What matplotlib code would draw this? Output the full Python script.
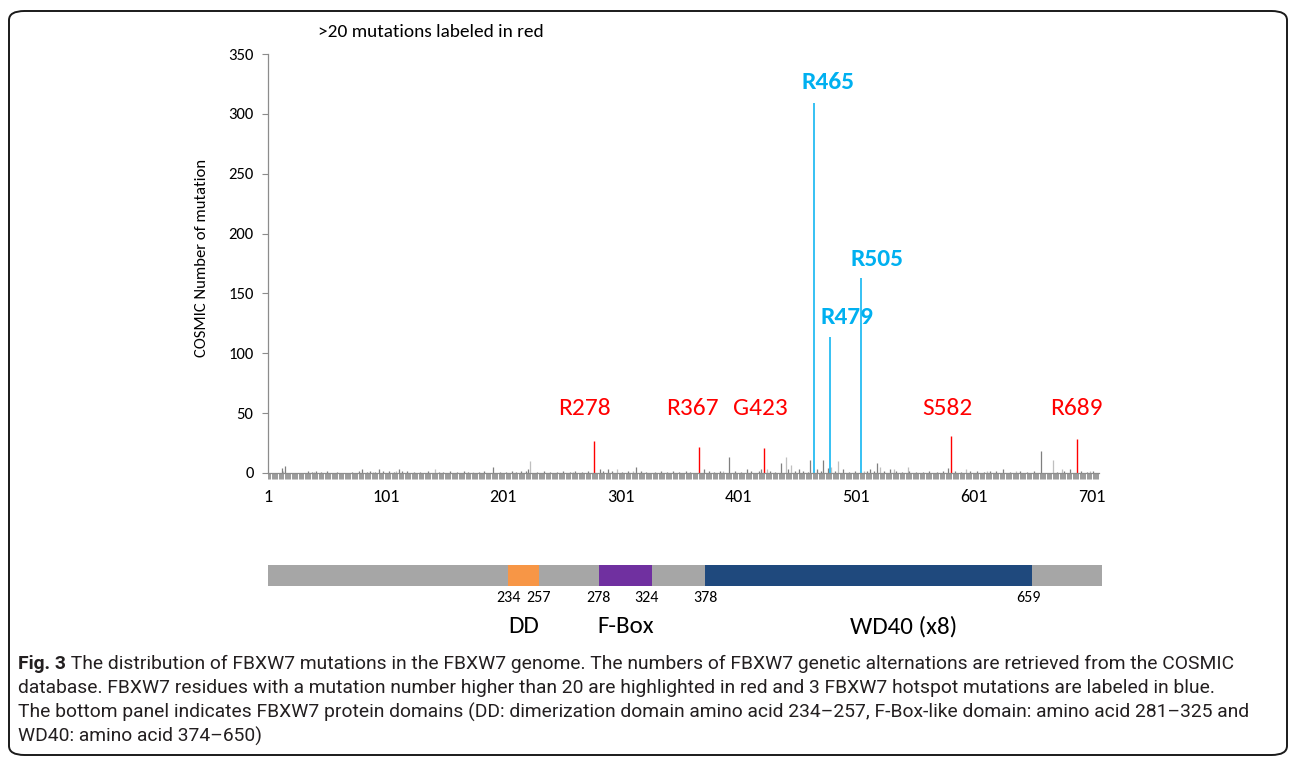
import matplotlib
matplotlib.use("Agg")
import matplotlib.pyplot as plt
from matplotlib.patches import FancyBboxPatch, Rectangle
import numpy as np

# ---------------- data ----------------
n_residues = 707
# highlighted residues (>20 mutations) in red
red_pos = [278, 367, 423, 582, 689]
red_val = [27, 22, 21, 31, 28]
red_labels = ["R278", "R367", "G423", "S582", "R689"]
# hotspots in blue
blue_pos = [465, 479, 505]
blue_val = [309, 114, 163]
blue_labels = ["R465", "R479", "R505"]
# other residues (dark grey series)
dark_pos = [13, 15, 35, 38, 42, 46, 51, 60, 72, 78, 81, 85, 88, 92, 95, 99, 104, 108,
            112, 115, 119, 125, 130, 137, 146, 150, 156, 162, 168, 171, 180, 185, 192,
            198, 203, 208, 212, 216, 220, 222, 230, 236, 241, 247, 252, 258, 262, 268,
            273, 283, 286, 290, 293, 302, 307, 314, 318, 322, 330, 335, 340, 345, 350,
            356, 360, 372, 376, 380, 385, 393, 398, 403, 408, 412, 418, 420, 428, 432,
            437, 443, 449, 452, 456, 460, 462, 468, 471, 473, 477, 483, 490, 495, 500,
            510, 513, 516, 519, 525, 530, 535, 540, 546, 552, 558, 563, 570, 575, 579,
            585, 590, 598, 604, 610, 615, 620, 626, 632, 640, 646, 652, 658, 672, 678,
            683, 692, 697, 702]
dark_val = [4, 6, 2, 1, 2, 1, 2, 1, 1, 2, 3, 1, 2, 1, 3, 2, 2, 1,
            3, 2, 2, 1, 1, 2, 1, 1, 2, 1, 2, 1, 1, 2, 5,
            1, 1, 2, 1, 2, 2, 3, 1, 2, 1, 1, 2, 1, 2, 1,
            2, 3, 2, 3, 2, 1, 2, 5, 2, 1, 1, 2, 1, 2, 1,
            2, 1, 3, 2, 1, 2, 13, 2, 1, 3, 2, 2, 3, 2, 1,
            8, 3, 2, 3, 2, 1, 11, 3, 2, 11, 4, 2, 3, 1, 2,
            2, 3, 2, 8, 2, 3, 2, 1, 2, 1, 1, 2, 1, 2, 4,
            2, 1, 2, 2, 1, 2, 2, 3, 1, 2, 1, 2, 18, 1, 2,
            3, 2, 1, 2]
# other residues (light grey series)
light_pos = [14, 40, 90, 110, 143, 175, 224, 260, 298, 311, 345, 388, 425, 441, 446,
             480, 486, 508, 521, 533, 545, 594, 612, 637, 668, 676, 700]
light_val = [2, 1, 1, 2, 3, 1, 10, 1, 3, 2, 1, 2, 3, 13, 7,
             5, 10, 2, 5, 3, 5, 3, 2, 2, 11, 3, 2]

x_ticks = [1, 101, 201, 301, 401, 501, 601, 701]
y_ticks = [0, 50, 100, 150, 200, 250, 300, 350]

# domains
dom_names = ["DD", "F-Box", "WD40 (x8)"]
dom_colors = ["#f79646", "#7030a0", "#1f497d"]
dom_draw_start = [204, 281, 371]
dom_draw_end = [230, 326, 648]
dom_num_labels = [("234", "257"), ("278", "324"), ("378", "659")]

caption_lines = [
    "The distribution of FBXW7 mutations in the FBXW7 genome. The numbers of FBXW7 genetic alternations are retrieved from the COSMIC",
    "database. FBXW7 residues with a mutation number higher than 20 are highlighted in red and 3 FBXW7 hotspot mutations are labeled in blue.",
    "The bottom panel indicates FBXW7 protein domains (DD: dimerization domain amino acid 234\u2013257, F-Box-like domain: amino acid 281\u2013325 and",
    "WD40: amino acid 374\u2013650)",
]

# ---------------- style / layout ----------------
CHART_FONT = ["Carlito", "Lato", "DejaVu Sans"]
CAP_FONT = ["Liberation Sans Narrow", "Roboto", "DejaVu Sans"]
plt.rcParams["font.family"] = CHART_FONT

dom_name_x = [217, 304, 539]
dom_end_shift = [0, -5, -3]

W, H = 1290, 762
fig = plt.figure(figsize=(W / 100, H / 100), dpi=100)


def fx(px):
    return px / W


def fy(py):
    return 1 - py / H


# outer rounded frame
frame = FancyBboxPatch((fx(9), fy(755)), fx(1287) - fx(9), fy(11) - fy(755),
                       boxstyle="round,pad=0,rounding_size=0.012",
                       transform=fig.transFigure, fill=False, ec="#1a1a1a", lw=1.4)
fig.patches.append(frame)

# main axes
ax_l, ax_r, ax_b, ax_t = 267.5, 1099, 473, 54
ax = fig.add_axes([fx(ax_l), fy(ax_b), fx(ax_r) - fx(ax_l), fy(ax_t) - fy(ax_b)])
ax.set_xlim(0.5, n_residues + 0.5)
ax.set_ylim(0, 350)

ax.vlines(light_pos, 0, light_val, colors="#bfbfbf", lw=0.9)
ax.vlines(dark_pos, 0, dark_val, colors="#7f7f7f", lw=0.9)
ax.vlines(red_pos, 0, red_val, colors="#ff0000", lw=1.0)
ax.vlines(blue_pos, 0, blue_val, colors="#00b0f0", lw=1.1)

for s in ["top", "right"]:
    ax.spines[s].set_visible(False)
for s in ["left", "bottom"]:
    ax.spines[s].set_color("#8c8c8c")
    ax.spines[s].set_linewidth(0.9)

ax.set_yticks(y_ticks)
ax.set_yticklabels([str(v) for v in y_ticks], fontsize=12)
ax.tick_params(axis="y", direction="out", length=4, width=0.8, color="#8c8c8c", pad=6)

ax.set_xticks(x_ticks)
ax.set_xticklabels([str(v) for v in x_ticks], fontsize=13)
ax.set_xticks(np.arange(1, n_residues + 1), minor=True)
ax.tick_params(axis="x", which="both", direction="out", length=4.5, width=0.7,
               color="#9a9a9a", pad=7)

# annotations
red_label_x = [270, 362, 420, 579, 688]
for lab, xx in zip(red_labels, red_label_x):
    ax.text(xx, 53.5, lab, color="#ff0000", fontsize=18.3, ha="center", va="center")
blue_label_xy = [(477.5, 326), (493, 130), (519, 178)]
for lab, (xx, yy) in zip(blue_labels, blue_label_xy):
    ax.text(xx, yy, lab, color="#00b0f0", fontsize=18.3, fontweight="bold",
            ha="center", va="center")

fig.text(fx(318), fy(32), ">20 mutations labeled in red", fontsize=13.9,
         ha="left", va="center")
fig.text(fx(202), fy(258), "COSMIC Number of mutation", fontsize=12, rotation=90,
         ha="center", va="center")

# domain bar
bx = fig.add_axes([fx(268), fy(586), fx(1102) - fx(268), fy(565) - fy(586)])
bx.set_xlim(0.5, n_residues + 0.5)
bx.set_ylim(0, 1)
bx.axis("off")
bx.add_patch(Rectangle((0.5, 0), n_residues, 1, color="#a6a6a6", lw=0))
for s, e, c in zip(dom_draw_start, dom_draw_end, dom_colors):
    bx.add_patch(Rectangle((s, 0), e - s, 1, color=c, lw=0))

trans = bx.get_xaxis_transform()
for s, e, (l1, l2), name, nx, sh in zip(dom_draw_start, dom_draw_end, dom_num_labels,
                                        dom_names, dom_name_x, dom_end_shift):
    bx.text(s, -0.55, l1, transform=trans, ha="center", va="center", fontsize=11.5,
            clip_on=False)
    bx.text(e + sh, -0.55, l2, transform=trans, ha="center", va="center", fontsize=11.5,
            clip_on=False)
    bx.text(nx, -1.95, name, transform=trans, ha="center", va="center",
            fontsize=18, clip_on=False)

# caption, fitted to width
renderer = fig.canvas.get_renderer()
cap_color = "#231f20"
f0 = 12.0
t_bold = fig.text(fx(18), fy(664), "Fig. 3", fontsize=f0, fontweight="bold",
                  family=CAP_FONT, ha="left", va="center", color=cap_color)
t_rest = fig.text(0, 0, " " + caption_lines[0], fontsize=f0, family=CAP_FONT,
                  ha="left", va="center", color=cap_color)
wb = t_bold.get_window_extent(renderer).width
wr = t_rest.get_window_extent(renderer).width
scale = (1226 - 18) / (wb + wr)
fs = f0 * scale
t_bold.set_fontsize(fs)
t_rest.set_fontsize(fs)
wb = t_bold.get_window_extent(renderer).width
t_rest.set_position((fx(18 + wb), fy(664)))
for i, line in enumerate(caption_lines[1:], start=1):
    fig.text(fx(18), fy(664 + 24 * i), line, fontsize=fs, family=CAP_FONT,
             ha="left", va="center", color=cap_color)

fig.savefig("out.png", dpi=100)
